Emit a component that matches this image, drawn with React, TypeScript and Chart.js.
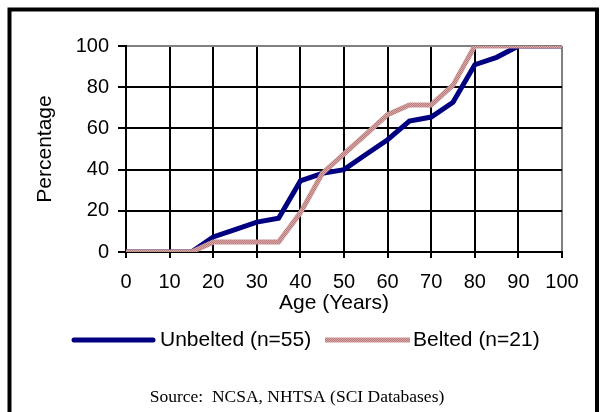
import React, { useEffect, useRef } from "react";
import { Chart, registerables } from "chart.js";

Chart.register(...registerables);

const ages = [0, 5, 10, 15, 20, 25, 30, 35, 40, 45, 50, 55, 60, 65, 70, 75, 80, 85, 90, 95, 100];
const unbelted = [0, 0, 0, 0, 7.3, 10.9, 14.5, 16.4, 34.5, 38.2, 40, 47.3, 54.5, 63.6, 65.5, 72.7, 90.9, 94.5, 100, 100, 100];
const belted = [0, 0, 0, 0, 4.8, 4.8, 4.8, 4.8, 19, 38.1, 47.6, 57.1, 66.7, 71.4, 71.4, 81, 100, 100, 100, 100, 100];
const seriesLabels = ["Unbelted (n=55)", "Belted (n=21)"];
const xTitle = "Age (Years)";
const yTitle = "Percentage";
const sourceText = "Source:  NCSA, NHTSA (SCI Databases)";

const SANS = "'Liberation Sans', Arial, sans-serif";
const SERIF = "'Liberation Serif', 'Times New Roman', serif";
const NAVY = "#000080";

function makePattern(): CanvasPattern | string {
  const c = document.createElement("canvas");
  c.width = 2;
  c.height = 2;
  const g = c.getContext("2d");
  if (!g) return "#c99393";
  g.fillStyle = "#d8a8a8";
  g.fillRect(0, 0, 2, 2);
  g.fillStyle = "#ba7b7b";
  g.fillRect(0, 0, 1, 1);
  g.fillRect(1, 1, 1, 1);
  const p = g.createPattern(c, "repeat");
  return p || "#c99393";
}

export default function App() {
  const ref = useRef<HTMLCanvasElement | null>(null);

  useEffect(() => {
    const canvas = ref.current;
    if (!canvas) return;
    const pink = makePattern();

    const decor = {
      id: "decor",
      afterDraw(chart: any) {
        const ctx = chart.ctx as CanvasRenderingContext2D;
        ctx.save();
        // outer frame
        ctx.strokeStyle = "#000";
        ctx.lineWidth = 4;
        ctx.beginPath();
        ctx.moveTo(9.5, 430);
        ctx.lineTo(9.5, 9.5);
        ctx.lineTo(597, 9.5);
        ctx.lineTo(597, 430);
        ctx.stroke();

        ctx.fillStyle = "#000";
        // y title
        ctx.font = `21px ${SANS}`;
        ctx.textAlign = "center";
        ctx.textBaseline = "middle";
        ctx.save();
        ctx.translate(45, 149);
        ctx.rotate(-Math.PI / 2);
        ctx.fillText(yTitle, 0, 0);
        ctx.restore();
        // x title
        ctx.fillText(xTitle, 334, 303);

        // legend
        const ly = 340;
        ctx.lineWidth = 5;
        ctx.lineCap = "round";
        ctx.strokeStyle = NAVY;
        ctx.beginPath();
        ctx.moveTo(74, ly);
        ctx.lineTo(153, ly);
        ctx.stroke();
        ctx.lineCap = "butt";
        ctx.strokeStyle = pink as any;
        ctx.beginPath();
        ctx.moveTo(325, ly);
        ctx.lineTo(410, ly);
        ctx.stroke();
        ctx.textAlign = "left";
        ctx.fillText(seriesLabels[0], 160, ly);
        ctx.fillText(seriesLabels[1], 413, ly);

        // source
        ctx.font = `17.5px ${SERIF}`;
        ctx.textAlign = "center";
        ctx.textBaseline = "alphabetic";
        ctx.fillText(sourceText, 297, 402);
        ctx.restore();
      },
    };

    const gridColor = (c: any) => (c.tick && c.tick.value === 100 ? "#808080" : "#000");

    const chart = new Chart(canvas, {
      type: "line",
      data: {
        datasets: [
          {
            label: seriesLabels[0],
            data: ages.map((a, i) => ({ x: a, y: unbelted[i] })),
            borderColor: NAVY,
            backgroundColor: NAVY,
            borderWidth: 5,
            pointRadius: 0,
            tension: 0,
            fill: false,
            order: 2,
          },
          {
            label: seriesLabels[1],
            data: ages.map((a, i) => ({ x: a, y: belted[i] })),
            borderColor: pink as any,
            backgroundColor: pink as any,
            borderWidth: 5,
            pointRadius: 0,
            tension: 0,
            fill: false,
            order: 1,
          },
        ],
      },
      options: {
        animation: false,
        responsive: false,
        maintainAspectRatio: false,
        layout: { padding: { left: 0, right: 38, top: 46, bottom: 0 } },
        plugins: { legend: { display: false }, tooltip: { enabled: false }, title: { display: false } },
        scales: {
          x: {
            type: "linear",
            min: 0,
            max: 100,
            ticks: {
              stepSize: 10,
              color: "#000",
              font: { family: SANS, size: 20 },
              padding: 12,
              maxRotation: 0,
              autoSkip: false,
            },
            grid: { color: gridColor, lineWidth: 2, tickLength: 6, tickColor: "#000", drawTicks: true },
            border: { display: true, color: "#000", width: 2 },
            afterFit: (s: any) => {
              s.height = 160;
            },
          },
          y: {
            type: "linear",
            min: 0,
            max: 100,
            ticks: {
              stepSize: 20,
              color: "#000",
              font: { family: SANS, size: 20 },
              padding: 9,
            },
            grid: { color: gridColor, lineWidth: 2, tickLength: 8, tickColor: "#000", drawTicks: true },
            border: { display: true, color: "#000", width: 2 },
            afterFit: (s: any) => {
              s.width = 126;
            },
          },
        },
      },
      plugins: [decor],
    });

    return () => chart.destroy();
  }, []);

  return (
    <div style={{ position: "fixed", left: 0, top: 0, width: 600, height: 412, background: "#fff" }}>
      <canvas ref={ref} width={600} height={412} style={{ display: "block", width: 600, height: 412 }} />
    </div>
  );
}
